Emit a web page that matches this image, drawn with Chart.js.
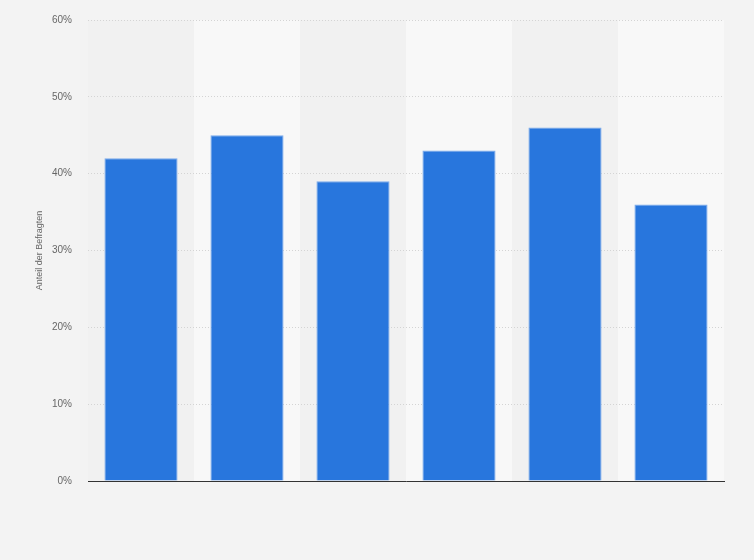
<!DOCTYPE html>
<html>
<head>
<meta charset="utf-8">
<script src="https://cdn.jsdelivr.net/npm/chart.js@4.4.0/dist/chart.umd.min.js"></script>
<style>
  html, body { margin: 0; padding: 0; background: #f3f3f3; }
  #wrap { width: 754px; height: 560px; }
</style>
</head>
<body>
<div id="wrap"><canvas id="barChart"></canvas></div>
<script>
// categories have no visible labels in the picture
const categories = ['1', '2', '3', '4', '5', '6'];
const shares = [42, 45, 39, 43, 46, 36];
const yTicks = [0, 10, 20, 30, 40, 50, 60];

// alternating column bands, drawn before the grid so the grid stays on top
const bandPlugin = {
    id: 'bands',
    beforeDraw(chart) {
        const { ctx, chartArea, scales } = chart;
        const x = scales.x;
        const step = x.getPixelForValue(1) - x.getPixelForValue(0);
        ctx.save();
        categories.forEach((c, i) => {
            const center = x.getPixelForValue(i);
            ctx.fillStyle = i % 2 === 0 ? '#f1f1f1' : '#f8f8f8';
            ctx.fillRect(center - step / 2, chartArea.top, step, chartArea.bottom - chartArea.top);
        });
        ctx.restore();
    }
};

Chart.defaults.font.family = '"Liberation Sans", Arial, sans-serif';
Chart.defaults.color = '#666';

const ctxChart = document.getElementById('barChart');
const myChart = new Chart(ctxChart, {
    type: 'bar',
    data: {
        labels: categories,
        datasets: [{
            data: shares,
            backgroundColor: '#2876dd',
            borderColor: '#7aaaec',
            borderWidth: 1,
            barPercentage: 0.69,
            categoryPercentage: 1.0
        }]
    },
    plugins: [bandPlugin],
    options: {
        responsive: true,
        maintainAspectRatio: false,
        animation: false,
        layout: {
            padding: { top: 20, right: 30, bottom: 71, left: 0 }
        },
        scales: {
            x: {
                ticks: { display: false },
                grid: { display: false },
                border: { display: true, color: '#333', width: 1 }
            },
            y: {
                min: 0,
                max: 60,
                afterBuildTicks: (scale) => {
                    scale.ticks = yTicks.map(v => ({ value: v }));
                },
                afterFit: (scale) => {
                    scale.width = 88;
                    scale.paddingTop = 0;
                    scale.paddingBottom = 0;
                },
                ticks: {
                    padding: 16,
                    font: { size: 10 },
                    color: '#666',
                    callback: (v) => v + '%'
                },
                grid: {
                    color: '#d4d4d4',
                    drawTicks: false
                },
                border: { display: false, dash: [1, 2] },
                title: {
                    display: true,
                    text: 'Anteil der Befragten',
                    color: '#666',
                    font: { size: 9 },
                    padding: { top: 34, bottom: 0 }
                }
            }
        },
        plugins: {
            legend: { display: false },
            tooltip: { enabled: false }
        }
    }
});
</script>
</body>
</html>
